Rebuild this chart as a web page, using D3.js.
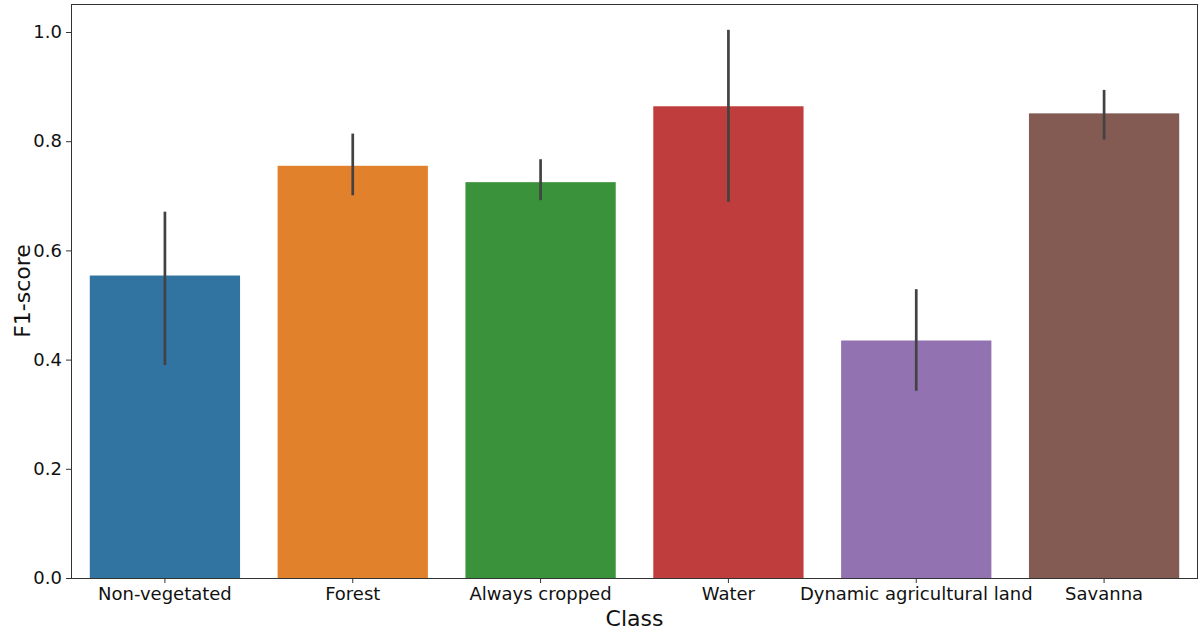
<!DOCTYPE html>
<html>
<head>
<meta charset="utf-8">
<script src="https://cdn.jsdelivr.net/npm/d3@7"></script>
<style>
  html, body { margin: 0; padding: 0; background: #fff; }
  svg { display: block; font-family: "DejaVu Sans", sans-serif; }
</style>
</head>
<body>
<svg id="chart" width="1199" height="631"></svg>
<script>
// F1-score per land-cover class, with error bar extents
const classes = ["Non-vegetated", "Forest", "Always cropped", "Water", "Dynamic agricultural land", "Savanna"];
const f1Mean  = [0.554, 0.755, 0.725, 0.864, 0.435, 0.851];
const f1Low   = [0.390, 0.701, 0.692, 0.689, 0.343, 0.803];
const f1High  = [0.671, 0.814, 0.767, 1.004, 0.529, 0.894];
const barColors = ["#3274a1", "#e1812c", "#3a923a", "#c03d3e", "#9372b2", "#845b53"];
const yTicks = [0.0, 0.2, 0.4, 0.6, 0.8, 1.0];

const svg = d3.select("#chart");
const plotLeft = 71, plotRight = 1198, plotTop = 4, plotBottom = 578;

const x = d3.scaleBand()
  .domain(classes)
  .range([plotLeft, plotRight])
  .paddingInner(0.2)
  .paddingOuter(0.1);

const y = d3.scaleLinear()
  .domain([0, 1.0513])
  .range([plotBottom, plotTop]);

// bars
svg.append("g").selectAll("rect")
  .data(classes)
  .join("rect")
  .attr("x", d => x(d))
  .attr("width", x.bandwidth())
  .attr("y", (d, i) => y(f1Mean[i]))
  .attr("height", (d, i) => y(0) - y(f1Mean[i]))
  .attr("fill", (d, i) => barColors[i]);

// error bars
svg.append("g").selectAll("line")
  .data(classes)
  .join("line")
  .attr("x1", d => x(d) + x.bandwidth() / 2)
  .attr("x2", d => x(d) + x.bandwidth() / 2)
  .attr("y1", (d, i) => y(f1Low[i]))
  .attr("y2", (d, i) => y(f1High[i]))
  .attr("stroke", "#424242")
  .attr("stroke-width", 2.7);

// axes
const xAxis = svg.append("g")
  .attr("transform", `translate(0,${plotBottom})`)
  .call(d3.axisBottom(x).tickSize(5).tickPadding(4));
const yAxis = svg.append("g")
  .attr("transform", `translate(${plotLeft},0)`)
  .call(d3.axisLeft(y).tickValues(yTicks).tickFormat(d3.format(".1f")).tickSize(5).tickPadding(4));

[xAxis, yAxis].forEach(g => {
  g.select(".domain").remove();
  g.selectAll(".tick line").attr("stroke", "#333").attr("stroke-width", 1);
  g.selectAll(".tick text").attr("fill", "#111").style("font-size", "18px")
    .style("font-family", "'DejaVu Sans', sans-serif");
});

// frame
svg.append("rect")
  .attr("x", plotLeft + 0.5).attr("y", plotTop + 0.5)
  .attr("width", plotRight - plotLeft - 1).attr("height", plotBottom - plotTop)
  .attr("fill", "none").attr("stroke", "#333").attr("stroke-width", 1);

// axis titles
svg.append("text")
  .attr("x", (plotLeft + plotRight) / 2).attr("y", 626)
  .attr("text-anchor", "middle")
  .style("font-size", "22px").attr("fill", "#111")
  .text("Class");

svg.append("text")
  .attr("transform", `translate(30,${(plotTop + plotBottom) / 2}) rotate(-90)`)
  .attr("text-anchor", "middle")
  .style("font-size", "22px").attr("fill", "#111")
  .text("F1-score");
</script>
</body>
</html>
